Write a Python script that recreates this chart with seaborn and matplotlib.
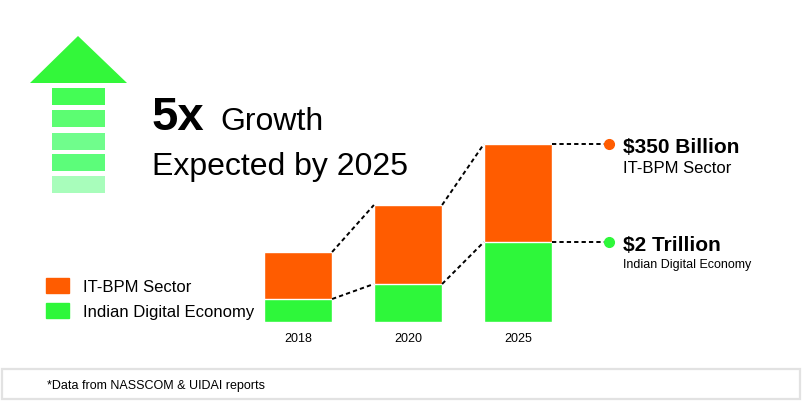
import numpy as np
import pandas as pd
import seaborn as sns
import matplotlib.pyplot as plt
from matplotlib.patches import Patch, Polygon, Rectangle

# data (bar heights, arbitrary units)
years = ["2018", "2020", "2025"]
digital_economy = [23, 38, 80]
it_bpm = [47, 79, 98]
series_names = ["IT-BPM Sector", "Indian Digital Economy"]
callout_values = ["$350 Billion", "$2 Trillion"]

orange = "#ff5c00"
green = "#2ef73a"

sns.set_theme(style="white")
plt.rcParams["font.family"] = ["Liberation Sans", "DejaVu Sans"]
plt.rcParams["text.color"] = "black"
plt.rcParams["xtick.color"] = "black"

df = pd.DataFrame({"year": years, "digital": digital_economy, "itbpm": it_bpm})
df["total"] = df["digital"] + df["itbpm"]

W, H = 803, 402
fig = plt.figure(figsize=(W / 100, H / 100), dpi=100)
fig.patch.set_facecolor("white")

# overlay in pixel coords for the decorations
bg = fig.add_axes([0, 0, 1, 1])
bg.set_xlim(0, W)
bg.set_ylim(H, 0)
bg.axis("off")

# arrow head + stripes
bg.add_patch(Polygon([(30, 84), (78, 37), (127, 84)], closed=True, color="#33f73a", lw=0))
stripe_colors = ["#44fd55", "#5cfd72", "#70fd8c", "#5cfd7a", "#a8fdbb"]
stripe_tops = [89, 111, 134, 155, 177]
for c, t in zip(stripe_colors, stripe_tops):
    bg.add_patch(Rectangle((52, t), 53, 17, color=c, lw=0))

# headline
bg.text(152, 130, "5x", fontsize=34, fontweight="bold", va="baseline")
bg.text(220, 130, "Growth", fontsize=23, va="baseline")
bg.text(152, 175, "Expected by 2025", fontsize=23, va="baseline")

# footer box
bg.add_patch(Rectangle((2, 370), 798, 30, fill=False, ec="#e2e2e2", lw=1.6))
bg.text(47, 386, "*Data from NASSCOM & UIDAI reports", fontsize=9, va="center")

# bar chart axes: centers at 0,1,2 -> 110 px apart, baseline at y=323 px
ax_left, ax_w = 243, 330
ax_bot, ax_h = 323, 200
ax = fig.add_axes([ax_left / W, (H - ax_bot) / H, ax_w / W, ax_h / H])
ax.patch.set_alpha(0)

bw = 0.62
sns.barplot(data=df, x="year", y="total", color=orange, width=bw, saturation=1, ax=ax)
sns.barplot(data=df, x="year", y="digital", color=green, width=bw, saturation=1, ax=ax)
ax.set_xlim(-0.5, 2.5)
ax.set_ylim(0, 200)
sns.despine(ax=ax, left=True, bottom=True)
ax.set_yticks([])
ax.set_xlabel("")
ax.set_ylabel("")
ax.tick_params(axis="x", length=0, labelsize=9, pad=7)

# dotted connector lines between bar tops
hw = bw / 2
for col in ["total", "digital"]:
    vals = df[col].values
    for i in range(len(vals) - 1):
        ax.plot([i + hw, i + 1 - hw], [vals[i], vals[i + 1]], ls=(0, (2.2, 1.6)),
                color="black", lw=1.4, clip_on=False)

# callouts on the right
dot_x = 2.83
for col, c, val, name, fs, sub in [("total", orange, callout_values[0], series_names[0], 12, -17),
                                   ("digital", green, callout_values[1], series_names[1], 9, -16)]:
    y = df[col].values[-1]
    ax.plot([2 + hw, dot_x], [y, y], ls=(0, (2.2, 1.6)), color="black", lw=1.4, clip_on=False)
    ax.plot(dot_x, y, "o", color=c, ms=7, clip_on=False)
    ax.annotate(val, (dot_x, y), xytext=(10, -2), textcoords="offset points",
                fontsize=15, fontweight="bold", va="center", ha="left", annotation_clip=False)
    ax.annotate(name, (dot_x, y), xytext=(10, sub), textcoords="offset points",
                fontsize=fs, va="center", ha="left", annotation_clip=False)

# legend
handles = [Patch(color=orange, label=series_names[0]), Patch(color=green, label=series_names[1])]
fig.legend(handles=handles, loc="upper left", bbox_to_anchor=(46 / W, 1 - 279 / H),
           frameon=False, fontsize=12, handlelength=1.4, handleheight=1.0,
           handletextpad=0.85, labelspacing=0.55, borderpad=0, borderaxespad=0)

fig.savefig("out.png", dpi=100)
